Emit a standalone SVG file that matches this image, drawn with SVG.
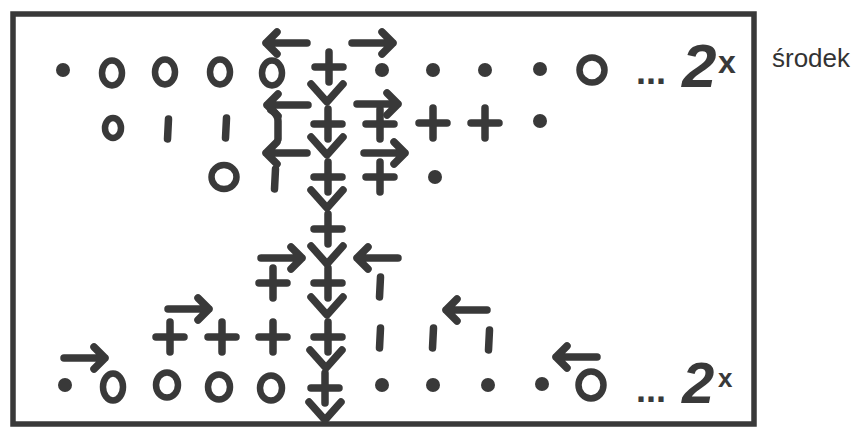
<svg xmlns="http://www.w3.org/2000/svg" width="857" height="431" viewBox="0 0 857 431">
<style>
.s{fill:none;stroke:#393939;stroke-width:7.5;stroke-linecap:round;stroke-linejoin:round}
.r{fill:none;stroke:#393939;stroke-width:6.5}
.d{fill:#393939}
.t{fill:#393939;font-family:"Liberation Sans",Arial,sans-serif}
.lbl{fill:#333;font-family:"Liberation Sans",Arial,sans-serif;font-size:26px}
</style>
<defs>
<path id="p" class="s" d="M-14 0H14M0-15V15"/>
<path id="v" class="s" d="M-16-9L0 9L16-9"/>
<path id="ar" class="s" d="M-21 0H20M9-11L20 0L9 11"/>
<path id="al" class="s" d="M21 0H-20M-9-11L-20 0L-9 11"/>
<ellipse id="o" class="r" rx="10" ry="12.5"/>
<circle id="d" class="d" r="7"/>
<path id="b" class="s" d="M0.5-10L-0.5 10"/>
</defs>
<rect id="frame" x="13" y="14" width="741" height="410" fill="#fff" stroke="#393939" stroke-width="5.5"/>
<text id="label" class="lbl" x="772" y="67">środek</text>
<g id="row1">
<use href="#d" x="63" y="70"/>
<use href="#o" x="112" y="73"/>
<use href="#o" x="165" y="72"/>
<use href="#o" x="220" y="72"/>
<use href="#o" x="272" y="73"/>
<use href="#p" x="329" y="67"/>
<use href="#d" x="382" y="70"/>
<use href="#d" x="433" y="70"/>
<use href="#d" x="485" y="70"/>
<use href="#d" x="540" y="69"/>
<ellipse class="r" cx="592" cy="70" rx="12.5" ry="12.5"/>
<text class="t" x="636" y="84" font-size="36" font-weight="bold">...</text>
<text class="t" x="682" y="87" font-size="62" font-style="italic" font-weight="bold">2</text>
<text class="t" x="718" y="73" font-size="32" font-weight="bold">x</text>
</g>
<g id="row2">
<ellipse class="r" cx="113" cy="128" rx="8" ry="10"/>
<use href="#b" x="168" y="129"/>
<use href="#b" x="226" y="128"/>
<path class="s" d="M271 110Q278 114 278 121V139"/>
<use href="#p" x="328" y="124"/>
<use href="#p" x="380" y="124"/>
<use href="#p" x="433" y="123"/>
<use href="#p" x="485" y="123"/>
<use href="#d" x="540" y="121"/>
</g>
<g id="row3">
<ellipse class="r" cx="224" cy="177" rx="12.5" ry="12"/>
<use href="#b" x="275" y="179"/>
<use href="#p" x="328" y="177"/>
<use href="#p" x="380" y="177"/>
<use href="#d" x="435" y="177"/>
</g>
<g id="row4">
<use href="#p" x="328" y="229"/>
</g>
<g id="row5">
<use href="#p" x="273" y="283"/>
<use href="#p" x="328" y="283"/>
<use href="#b" x="380" y="287"/>
</g>
<g id="row6">
<use href="#p" x="170" y="337"/>
<use href="#p" x="222" y="337"/>
<use href="#p" x="273" y="337"/>
<use href="#p" x="328" y="337"/>
<use href="#b" x="380" y="338"/>
<use href="#b" x="433" y="338"/>
<use href="#b" x="489" y="340"/>
</g>
<g id="row7">
<use href="#d" x="65" y="385"/>
<ellipse class="r" cx="113" cy="387" rx="10" ry="13.5"/>
<ellipse class="r" cx="167" cy="385" rx="11" ry="12.5"/>
<ellipse class="r" cx="219" cy="387" rx="11" ry="12.5"/>
<ellipse class="r" cx="271" cy="388" rx="11" ry="12.5"/>
<use href="#p" x="325" y="388"/>
<use href="#d" x="382" y="385"/>
<use href="#d" x="433" y="385"/>
<use href="#d" x="488" y="385"/>
<use href="#d" x="542" y="384"/>
<ellipse class="r" cx="591" cy="385" rx="12.5" ry="13.5"/>
<text class="t" x="636" y="402" font-size="36" font-weight="bold">...</text>
<text class="t" x="682" y="403" font-size="58" font-style="italic" font-weight="bold">2</text>
<text class="t" x="718" y="387" font-size="26" font-weight="bold">x</text>
</g>
<g id="connectors">
<use href="#al" x="286" y="43"/>
<use href="#ar" x="373" y="43"/>
<use href="#v" x="327" y="93"/>
<use href="#al" x="287" y="105"/>
<use href="#ar" x="378" y="104"/>
<use href="#v" x="327" y="146"/>
<use href="#al" x="286" y="153"/>
<use href="#ar" x="385" y="153"/>
<use href="#v" x="327" y="199"/>
<use href="#v" x="327" y="255"/>
<use href="#ar" x="282" y="258"/>
<use href="#al" x="377" y="258"/>
<use href="#v" x="327" y="306"/>
<use href="#ar" x="189" y="309"/>
<use href="#al" x="466" y="310"/>
<use href="#v" x="326" y="359"/>
<use href="#ar" x="85" y="358"/>
<use href="#al" x="576" y="357"/>
<use href="#v" x="325" y="411"/>
</g>
</svg>
